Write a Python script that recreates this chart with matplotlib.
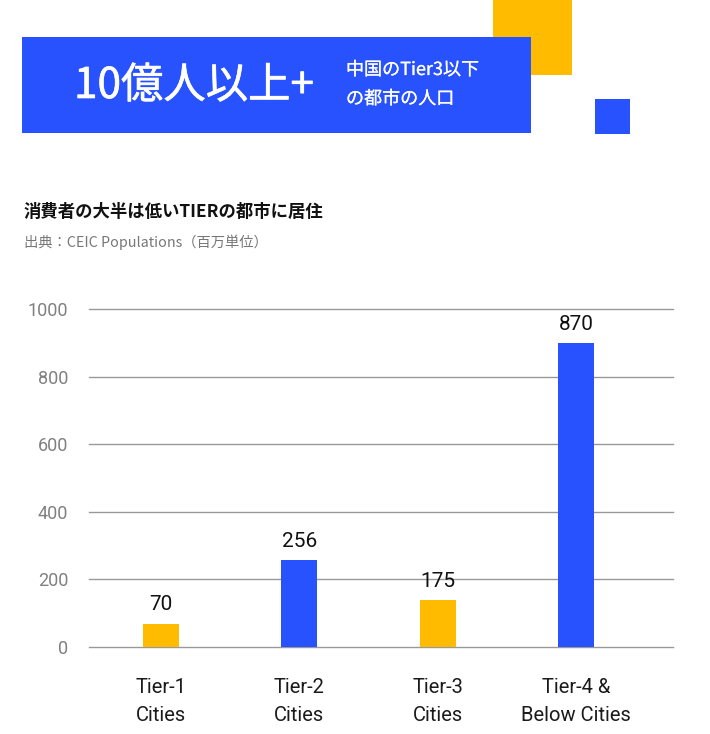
import matplotlib
matplotlib.use("Agg")
import matplotlib.pyplot as plt
from matplotlib.patches import Rectangle
import matplotlib.patheffects as pe

categories = ["Tier-1\nCities", "Tier-2\nCities", "Tier-3\nCities", "Tier-4 &\nBelow Cities"]
bar_values = [69, 258, 139, 900]
value_labels = ["70", "256", "175", "870"]
yticks = [0, 200, 400, 600, 800, 1000]

headline = "10億人以上+"
headline_sub = "中国のTier3以下\nの都市の人口"
title = "消費者の大半は低いTIERの都市に居住"
subtitle = "出典：CEIC Populations（百万単位）"

BLUE = "#2952FF"
YELLOW = "#FFBB00"
colors = [YELLOW, BLUE, YELLOW, BLUE]

W, H = 710, 734
fig = plt.figure(figsize=(W / 100, H / 100), dpi=100)
fig.patch.set_facecolor("white")

def fx(x):
    return x / W

def fy(y):
    return 1 - y / H

def rect(x0, y0, x1, y1, color):
    fig.add_artist(Rectangle((fx(x0), fy(y1)), fx(x1) - fx(x0), fy(y0) - fy(y1),
                             transform=fig.transFigure, color=color, lw=0))

cjk = ["Noto Sans CJK JP", "DejaVu Sans"]

rect(493, 0, 572, 75, YELLOW)
rect(22, 37, 531, 133, BLUE)
rect(595, 99, 630, 134, BLUE)

fig.text(fx(74), fy(86), headline, color="white", fontsize=30.5, family=cjk,
         fontweight="normal", ha="left", va="center",
         path_effects=[pe.withStroke(linewidth=0.45, foreground="white")])
lines = headline_sub.split("\n")
sub_fx = [pe.withStroke(linewidth=0.15, foreground="white")]
fig.text(fx(346), fy(70), lines[0], color="white", fontsize=13,
         family=cjk, ha="left", va="center", path_effects=sub_fx)
fig.text(fx(346), fy(99), lines[1], color="white", fontsize=13,
         family=cjk, ha="left", va="center", path_effects=sub_fx)

fig.text(fx(24), fy(212), title, color="#111111", fontsize=12.5, family=cjk,
         fontweight="bold", ha="left", va="center")
fig.text(fx(24), fy(242), subtitle, color="#777777", fontsize=10.3, family=cjk,
         ha="left", va="center")

ax = fig.add_axes([fx(89), fy(647), fx(673) - fx(89), fy(309.3) - fy(647)])
x = list(range(len(categories)))
bars = ax.bar(x, bar_values, width=0.26, color=colors, zorder=3)
ax.set_xlim(-0.52, 3.70)
ax.set_ylim(0, 1000)
for s in ax.spines.values():
    s.set_visible(False)
ax.set_yticks(yticks)
ax.set_yticklabels([str(t) for t in yticks], color="#808080", fontsize=13,
                   family="Roboto")
ax.yaxis.grid(True, color="#999999", lw=1.0, zorder=0)
for gl in ax.get_ygridlines():
    gl.set_clip_on(False)
ax.set_axisbelow(True)
ax.tick_params(axis="y", length=0, pad=15)
ax.set_xticks(x)
ax.set_xticklabels(categories, fontsize=14.5, family="Roboto", color="#1a1a1a",
                   linespacing=1.6)
ax.tick_params(axis="x", length=0, pad=22)

for xi, v, lab in zip(x, bar_values, value_labels):
    ax.annotate(lab, (xi, v), xytext=(0, 13.5), textcoords="offset points",
                ha="center", va="center", fontsize=15, family="Roboto",
                color="#111111")

fig.savefig("out.png", dpi=100, facecolor="white")
